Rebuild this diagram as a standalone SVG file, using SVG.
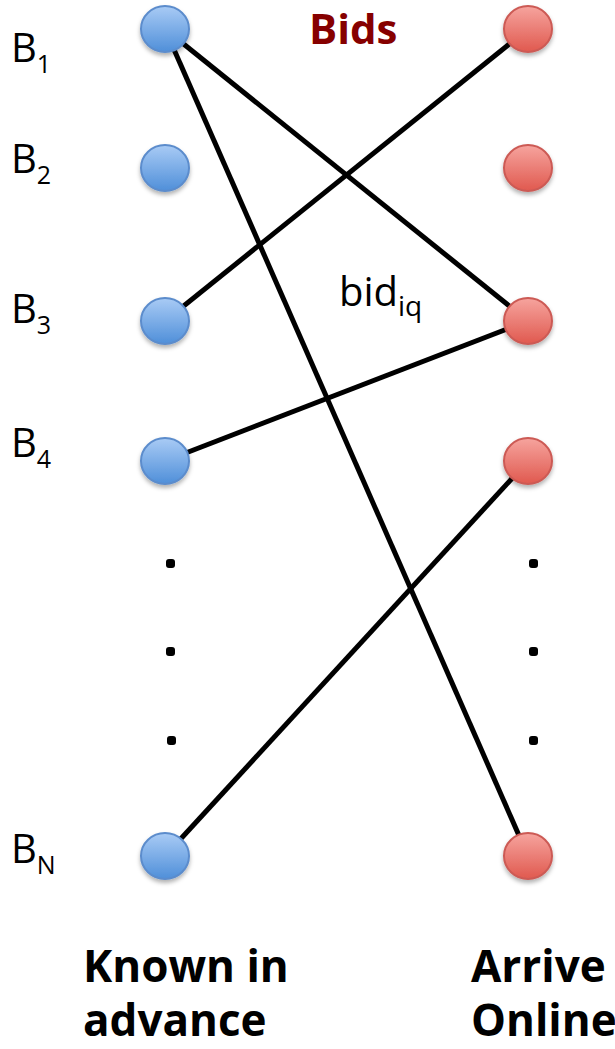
<svg xmlns="http://www.w3.org/2000/svg" width="615" height="1049" viewBox="0 0 615 1049">
  <defs>
    <linearGradient id="gBlue" x1="0" y1="0" x2="0" y2="1">
      <stop offset="0" stop-color="#a9cbf5"/>
      <stop offset="1" stop-color="#4f8fd9"/>
    </linearGradient>
    <linearGradient id="gRed" x1="0" y1="0" x2="0" y2="1">
      <stop offset="0" stop-color="#f6a49e"/>
      <stop offset="1" stop-color="#e0594f"/>
    </linearGradient>
    <filter id="shadow" x="-30%" y="-30%" width="160%" height="170%">
      <feDropShadow dx="0" dy="3" stdDeviation="2" flood-color="#000" flood-opacity="0.3"/>
    </filter>
  </defs>
  <style>
    .edge { stroke: #000; stroke-width: 5; fill: none; }
    .blue { fill: url(#gBlue); stroke: #5b8ccc; stroke-width: 2; filter: url(#shadow); }
    .red { fill: url(#gRed); stroke: #cc5a54; stroke-width: 2; filter: url(#shadow); }
    .lbl { font-family: "Open Sans", "Liberation Sans", sans-serif; font-size: 40px; fill: #000; }
    .sub { font-size: 25px; }
    .head { font-family: "Open Sans", "Liberation Sans", sans-serif; font-weight: bold; font-size: 44px; fill: #000; }
    .dot { fill: #000; }
  </style>

  <g id="connectors">
    <line class="edge" x1="165" y1="29" x2="528" y2="321"/>
    <line class="edge" x1="165" y1="29" x2="528" y2="856"/>
    <line class="edge" x1="165" y1="321" x2="528" y2="29"/>
    <line class="edge" x1="165" y1="461" x2="528" y2="321"/>
    <line class="edge" x1="165" y1="856" x2="528" y2="461"/>
  </g>

  <g id="L1"><ellipse class="blue" cx="165" cy="29" rx="24" ry="23"/></g>
  <g id="L2"><ellipse class="blue" cx="165" cy="168" rx="24" ry="23"/></g>
  <g id="L3"><ellipse class="blue" cx="165" cy="321" rx="24" ry="23"/></g>
  <g id="L4"><ellipse class="blue" cx="165" cy="461" rx="24" ry="23"/></g>
  <g id="LN"><ellipse class="blue" cx="165" cy="856" rx="24" ry="23"/></g>

  <g id="R1"><ellipse class="red" cx="528" cy="29" rx="24" ry="23"/></g>
  <g id="R2"><ellipse class="red" cx="528" cy="168" rx="24" ry="23"/></g>
  <g id="R3"><ellipse class="red" cx="528" cy="321" rx="24" ry="23"/></g>
  <g id="R4"><ellipse class="red" cx="528" cy="461" rx="24" ry="23"/></g>
  <g id="RN"><ellipse class="red" cx="528" cy="856" rx="24" ry="23"/></g>

  <g id="dots">
    <rect class="dot" x="166" y="559" width="9" height="9" rx="3"/>
    <rect class="dot" x="166" y="647" width="9" height="9" rx="3"/>
    <rect class="dot" x="167" y="736" width="9" height="9" rx="3"/>
    <rect class="dot" x="529" y="559" width="9" height="9" rx="3"/>
    <rect class="dot" x="529" y="647" width="9" height="9" rx="3"/>
    <rect class="dot" x="529" y="736" width="9" height="9" rx="3"/>
  </g>

  <g id="labels">
    <text class="lbl" x="11" y="62">B<tspan class="sub" dy="11">1</tspan></text>
    <text class="lbl" x="11" y="173">B<tspan class="sub" dy="11">2</tspan></text>
    <text class="lbl" x="11" y="323">B<tspan class="sub" dy="11">3</tspan></text>
    <text class="lbl" x="11" y="457">B<tspan class="sub" dy="11">4</tspan></text>
    <text class="lbl" x="11" y="863">B<tspan class="sub" dy="11">N</tspan></text>
  </g>

  <g id="bids-title">
    <text x="309" y="44" font-family="Open Sans, Liberation Sans, sans-serif" font-weight="bold" font-size="42" fill="#860000">Bids</text>
  </g>

  <g id="bid-label">
    <text class="lbl" x="339" y="306" font-size="43">bid<tspan font-size="28" dy="10">iq</tspan></text>
  </g>

  <g id="left-caption">
    <text class="head" x="83" y="982">Known in</text>
    <text class="head" x="83" y="1036">advance</text>
  </g>
  <g id="right-caption">
    <text class="head" x="471" y="982">Arrive</text>
    <text class="head" x="471" y="1036">Online</text>
  </g>
</svg>
